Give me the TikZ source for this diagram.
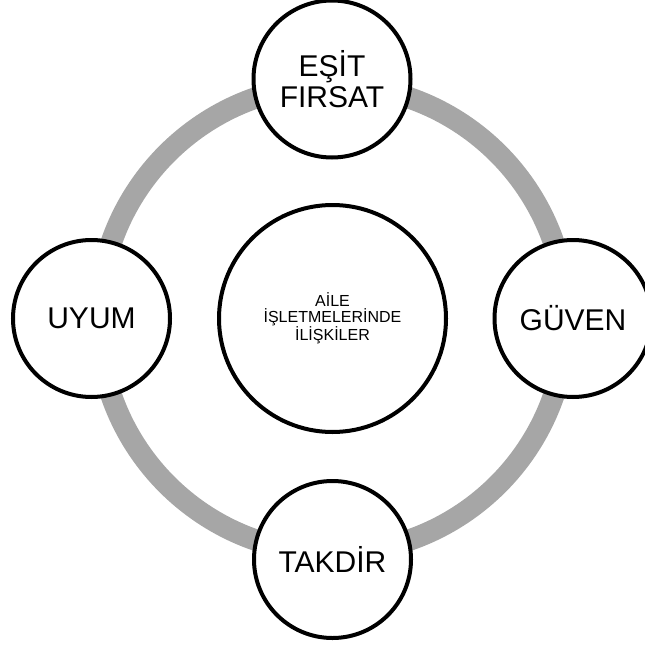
\documentclass[tikz,border=0pt]{standalone}
\usepackage{fontspec}
\setmainfont{Liberation Sans}
\definecolor{ringgray}{HTML}{A6A6A6}
\tikzset{
  outer/.style={circle, draw=black, line width=4pt, fill=white, minimum size=157pt, inner sep=0pt, align=center, font=\fontsize{30}{30.6}\selectfont},
  inner/.style={circle, draw=black, line width=4pt, fill=white, minimum size=227pt, inner sep=0pt, align=center, font=\fontsize{16}{15.8}\selectfont},
  ring/.style={draw=ringgray, line width=21.5pt}
}
\begin{document}
\begin{tikzpicture}[x=1pt,y=-1pt]
\useasboundingbox (0,0) rectangle (645,645);
\clip (0,0) rectangle (645,645);
\coordinate (c) at (332.5,319);
\draw[ring] (c) circle [radius=234pt];
\node[inner] (mid) at (332.5,318.5) {AİLE\\İŞLETMELERİNDE\\İLİŞKİLER};
\node[outer] (top) at (332,79) {EŞİT\\FIRSAT};
\node[outer] (left) at (91.5,318.5) {UYUM};
\node[outer] (right) at (573,318.5) {GÜVEN};
\node[outer] (bottom) at (332.5,559.5) {TAKDİR};
\end{tikzpicture}
\end{document}
